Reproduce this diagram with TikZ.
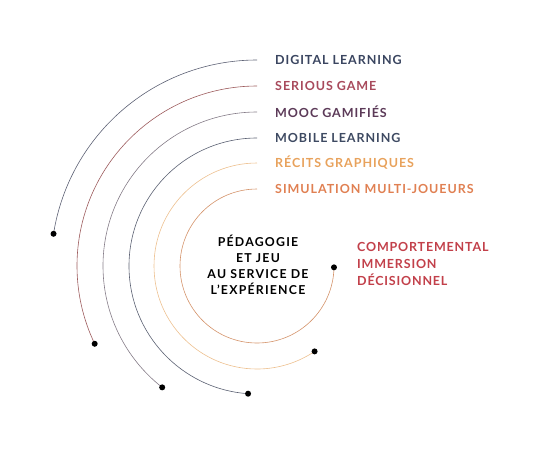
\documentclass[tikz,border=0pt]{standalone}
\usepackage{fontspec}
\setmainfont{Lato}
\usetikzlibrary{calc}
\definecolor{cA}{HTML}{5E6275}
\definecolor{cB}{HTML}{9C5A5C}
\definecolor{cC}{HTML}{857C88}
\definecolor{cD}{HTML}{5A6072}
\definecolor{cE}{HTML}{EDC08F}
\definecolor{cF}{HTML}{D4936A}
\definecolor{tA}{HTML}{3A4560}
\definecolor{tB}{HTML}{A84A5C}
\definecolor{tC}{HTML}{5C3A58}
\definecolor{tD}{HTML}{3E4A62}
\definecolor{tE}{HTML}{E8A25C}
\definecolor{tF}{HTML}{E08052}
\definecolor{tR}{HTML}{C2404A}
\tikzset{
  arcline/.style={line width=0.6pt},
  enddot/.style={circle,fill=black,inner sep=0pt,minimum size=6pt},
  lbl/.style={anchor=west,font=\fontsize{12.5}{14}\selectfont\bfseries\addfontfeatures{LetterSpace=7.5},inner sep=0pt},
  ctr/.style={align=center,font=\fontsize{12.3}{16}\selectfont\bfseries\addfontfeatures{LetterSpace=10},inner sep=0pt},
}
\begin{document}
\begin{tikzpicture}[x=1pt,y=1pt]
\useasboundingbox (0,0) rectangle (535,-467);
\coordinate (c) at (257,-266);
\foreach \r/\e/\col/\n in {77/359/cF/1,103/304/cE/2,128/266/cD/3,154/232/cC/4,180/205.6/cB/5,206/171/cA/6}{
  \coordinate (s\n) at ($(c)+(90:\r)$);
  \coordinate (e\n) at ($(c)+(\e:\r)$);
  \draw[arcline,\col] (s\n) arc[start angle=90,end angle=\e,radius=\r];
  \node[enddot] (d\n) at (e\n) {};
}
\node[lbl,text=tA] (l6) at ($(s6)+(18,0)$) {DIGITAL LEARNING};
\node[lbl,text=tB] (l5) at ($(s5)+(18,0)$) {SERIOUS GAME};
\node[lbl,text=tC] (l4) at ($(s4)+(18,0)$) {MOOC GAMIFIÉS};
\node[lbl,text=tD] (l3) at ($(s3)+(18,0)$) {MOBILE LEARNING};
\node[lbl,text=tE] (l2) at ($(s2)+(18,0)$) {RÉCITS GRAPHIQUES};
\node[lbl,text=tF] (l1) at ($(s1)+(18,0)$) {SIMULATION MULTI-JOUEURS};
\node[ctr] (mid) at (258,-265) {PÉDAGOGIE\\ET JEU\\AU SERVICE DE\\L’EXPÉRIENCE};
\node[lbl,text=tR,align=left,font=\fontsize{12.5}{17}\selectfont\bfseries\addfontfeatures{LetterSpace=6.5}] (r) at (357,-264) {COMPORTEMENTAL\\IMMERSION\\DÉCISIONNEL};
\end{tikzpicture}
\end{document}
